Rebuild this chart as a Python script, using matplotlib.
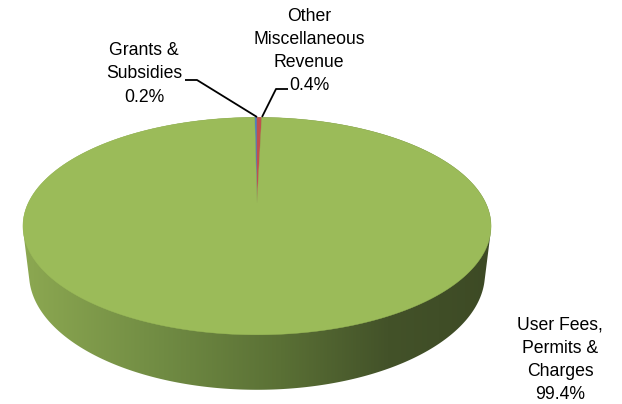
import numpy as np
import matplotlib
matplotlib.use("Agg")
import matplotlib.pyplot as plt
from matplotlib.patches import Polygon
from matplotlib.colors import LinearSegmentedColormap

# Revenue shares (percent)
categories = ["Grants & Subsidies", "Other Miscellaneous Revenue", "User Fees, Permits & Charges"]
values = [0.2, 0.4, 99.4]
label_names = ["Grants &\nSubsidies", "Other\nMiscellaneous\nRevenue", "User Fees,\nPermits &\nCharges"]
colors = ["#4F81BD", "#C0504D", "#9BBB59"]

# 3-D view parameters (perspective camera looking down at the pie)
ELEV = np.radians(27)
DIST = 4.2
DEPTH = 0.236
SCALE = 960.6
CX, CY = 257.0, 203.0

W, H = 622, 404
fig = plt.figure(figsize=(W / 100, H / 100), dpi=100)
ax = fig.add_axes([0, 0, 1, 1])
ax.set_xlim(0, W)
ax.set_ylim(H, 0)
ax.axis("off")


def project(theta, z):
    s, c = np.sin(ELEV), np.cos(ELEV)
    X, Y = np.cos(theta), np.sin(theta)
    d = DIST + Y * c - z * s
    yp = Y * s + z * c
    return CX + SCALE * X / d, CY - SCALE * yp / d


def convex_hull(pts):
    pts = sorted(map(tuple, pts))

    def cross(o, a, b):
        return (a[0] - o[0]) * (b[1] - o[1]) - (a[1] - o[1]) * (b[0] - o[0])

    lower, upper = [], []
    for p in pts:
        while len(lower) >= 2 and cross(lower[-2], lower[-1], p) <= 0:
            lower.pop()
        lower.append(p)
    for p in reversed(pts):
        while len(upper) >= 2 and cross(upper[-2], upper[-1], p) <= 0:
            upper.pop()
        upper.append(p)
    return np.array(lower[:-1] + upper[:-1])


# Side wall: hull of top and bottom rims, filled with a left-to-right shade
t = np.linspace(0, 2 * np.pi, 721)
tx, ty = project(t, 0.0)
bx, by = project(t, -DEPTH)
hull = convex_hull(np.column_stack([np.r_[tx, bx], np.r_[ty, by]]))
side = Polygon(hull, closed=True, facecolor="none", edgecolor="none")
ax.add_patch(side)

shade = LinearSegmentedColormap.from_list(
    "side",
    [(0.0, "#8CA851"), (0.3, "#708B43"), (0.55, "#5A7035"),
     (0.78, "#435229"), (1.0, "#3D4A25")],
)
x0, x1 = hull[:, 0].min(), hull[:, 0].max()
grad = np.linspace(0, 1, 512)[None, :]
img = ax.imshow(grad, cmap=shade, aspect="auto",
                extent=[x0, x1, hull[:, 1].max(), hull[:, 1].min()],
                interpolation="bilinear", zorder=1)
img.set_clip_path(side)
ax.set_xlim(0, W)
ax.set_ylim(H, 0)

# Top face wedges, first slice ending at 12 o'clock, running clockwise
total = float(sum(values))
start = np.pi / 2 + 2 * np.pi * values[0] / total
for val, col in zip(values, colors):
    sweep = 2 * np.pi * val / total
    n = max(4, int(np.degrees(sweep) * 2))
    th = np.linspace(start, start - sweep, n)
    ax_, ay_ = project(th, 0.0)
    poly = np.column_stack([np.r_[CX, ax_], np.r_[CY, ay_]])
    ax.add_patch(Polygon(poly, closed=True, facecolor=col, edgecolor=col,
                         linewidth=0.3, zorder=2))
    start -= sweep

# Data labels with leader lines
font = dict(family=["Liberation Sans", "DejaVu Sans"], fontsize=12.7,
            ha="center", va="center", multialignment="center", linespacing=1.48)
pct = [f"{v / total * 100:.1f}%" for v in values]

ax.text(144, 74, f"{label_names[0]}\n{pct[0]}", **font, zorder=5)
ax.plot([185, 197, 257], [80, 80, 117], color="black", lw=1.3, zorder=4,
        solid_capstyle="butt")

ax.text(309, 51, f"{label_names[1]}\n{pct[1]}", **font, zorder=5)
ax.plot([288, 276, 262], [89, 89, 117], color="black", lw=1.3, zorder=4,
        solid_capstyle="butt")

ax.text(560, 360, f"{label_names[2]}\n{pct[2]}", **font, zorder=5)

fig.savefig("out.png", dpi=100)
